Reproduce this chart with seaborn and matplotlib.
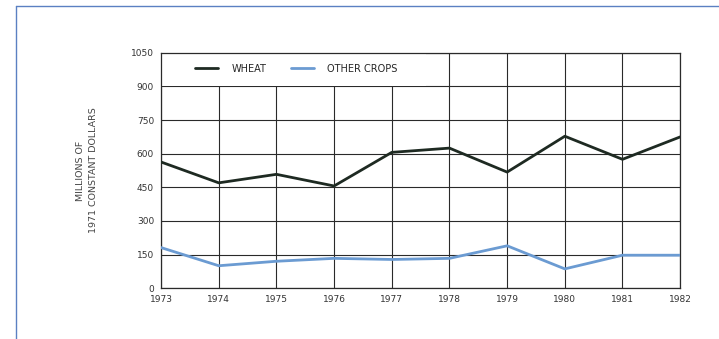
import pandas as pd
import matplotlib.pyplot as plt
import seaborn as sns
from matplotlib.patches import Rectangle
from matplotlib.lines import Line2D

# values (millions of 1971 constant dollars)
years = [1973, 1974, 1975, 1976, 1977, 1978, 1979, 1980, 1981, 1982]
wheat = [563, 470, 508, 456, 606, 625, 518, 678, 575, 675]
other_crops = [181, 100, 120, 133, 128, 133, 189, 86, 147, 147]
series_names = ['WHEAT', 'OTHER CROPS']
y_ticks = [0, 150, 300, 450, 600, 750, 900, 1050]

data = pd.DataFrame({
    'Year': years * 2,
    'Value': wheat + other_crops,
    'Series': [series_names[0]] * len(years) + [series_names[1]] * len(years),
})

sns.set_style('white')
plt.rcParams['font.family'] = ['DejaVu Sans']

fig = plt.figure(figsize=(7.19, 3.39), dpi=100)
ax = fig.add_axes([0.224, 0.150, 0.722, 0.694])

sns.lineplot(data=data, x='Year', y='Value', hue='Series',
             palette={'WHEAT': '#1e2a22', 'OTHER CROPS': '#6b9bd2'},
             linewidth=2.0, ax=ax, zorder=3)

ax.set_xlim(1973, 1982)
ax.set_ylim(0, 1050)
ax.set_xticks(years)
ax.set_yticks(y_ticks)
ax.set_xticklabels([str(y) for y in years], fontsize=6.5, color='#333333')
ax.set_yticklabels([str(v) for v in y_ticks], fontsize=6.5, color='#333333')
ax.tick_params(length=0, pad=5)
ax.grid(True, color='#2a2a2a', linewidth=0.8, zorder=0)
ax.set_axisbelow(True)
for s in ax.spines.values():
    s.set_color('#2a2a2a')
    s.set_linewidth(0.9)

# white box behind the legend hides the grid
ax.add_patch(Rectangle((1973, 900), 4.6, 150, facecolor='white',
                       edgecolor='none', zorder=1))

ax.set_xlabel('')
ax.set_ylabel('MILLIONS OF\n1971 CONSTANT DOLLARS', fontsize=6.8,
              color='#444444', labelpad=24, linespacing=1.5)

handles, labels = ax.get_legend_handles_labels()
ax.legend(handles, labels, loc='center left', bbox_to_anchor=(0.065, 0.932),
          ncol=2, frameon=False, fontsize=7, handlelength=2.35,
          handletextpad=1.4, columnspacing=2.55, borderpad=0, borderaxespad=0)

# page frame lines
fig.add_artist(Line2D([16 / 719, 1], [1 - 6 / 339, 1 - 6 / 339],
                      color='#5b80c2', linewidth=1.0))
fig.add_artist(Line2D([16 / 719, 16 / 719], [0, 1 - 6 / 339],
                      color='#5b80c2', linewidth=1.0))

fig.savefig('out.png', dpi=100, facecolor='white')
